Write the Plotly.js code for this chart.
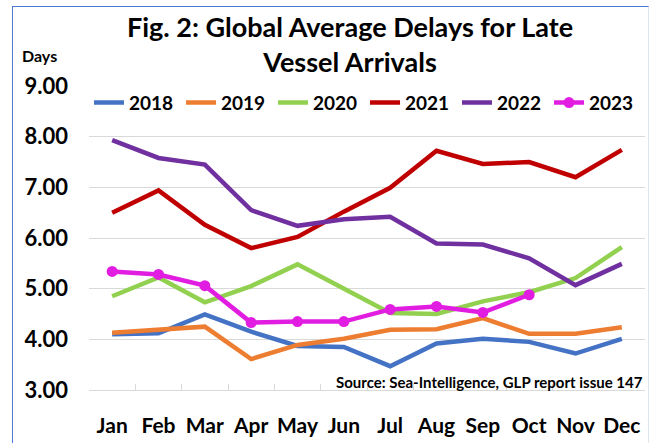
<!DOCTYPE html>
<html>
<head>
<meta charset="utf-8">
<script src="https://cdn.plot.ly/plotly-3.0.1.min.js"></script>
<style>
html, body { margin:0; padding:0; background:#fff; }
#chart { width:649px; height:443px; position:absolute; left:0; top:0; }
#frame { position:absolute; left:12px; top:6px; width:635px; height:460px;
  border-left:1.5px solid #4a7bd0; border-top:1.5px solid #4a7bd0; border-right:1px solid #dfe6ef;
  pointer-events:none; }
</style>
</head>
<body>
<div id="chart"></div>
<div id="frame"></div>
<script>
const months = ['Jan','Feb','Mar','Apr','May','Jun','Jul','Aug','Sep','Oct','Nov','Dec'];
const years = ['2018','2019','2020','2021','2022','2023'];
const d2018 = [4.10, 4.12, 4.49, 4.15, 3.87, 3.85, 3.47, 3.92, 4.01, 3.95, 3.72, 4.01];
const d2019 = [4.13, 4.20, 4.25, 3.61, 3.89, 4.01, 4.19, 4.20, 4.42, 4.11, 4.11, 4.24];
const d2020 = [4.85, 5.22, 4.73, 5.05, 5.48, 5.00, 4.52, 4.50, 4.75, 4.93, 5.21, 5.82];
const d2021 = [6.50, 6.94, 6.26, 5.80, 6.02, 6.52, 6.99, 7.72, 7.46, 7.50, 7.20, 7.74];
const d2022 = [7.93, 7.58, 7.45, 6.55, 6.24, 6.37, 6.42, 5.89, 5.87, 5.60, 5.07, 5.49];
const d2023 = [5.34, 5.28, 5.06, 4.33, 4.35, 4.35, 4.59, 4.65, 4.53, 4.88];
const colors = ['#4472C4', '#ED7D31', '#92D050', '#C00000', '#7030A0', '#E21DE2'];
const series = [d2018, d2019, d2020, d2021, d2022, d2023];

const FONT = 'Lato, "Open Sans", sans-serif';
const traces = series.map((vals, i) => ({
  type: 'scatter',
  x: months.slice(0, vals.length),
  y: vals,
  name: years[i],
  mode: i === 5 ? 'lines+markers' : 'lines',
  line: { color: colors[i], width: 4.5 },
  marker: { color: colors[i], size: 11 }
}));

const layout = {
  width: 649, height: 443,
  margin: { l: 89, r: 4, t: 86, b: 53 },
  paper_bgcolor: 'rgba(0,0,0,0)',
  plot_bgcolor: 'rgba(0,0,0,0)',
  font: { family: FONT, color: '#000', weight: 'bold' },
  showlegend: true,
  legend: {
    orientation: 'h', x: 0.0, xanchor: 'left', y: 0.945, yanchor: 'middle',
    font: { family: FONT, size: 19, weight: 'bold' },
    entrywidth: 47, entrywidthmode: 'pixels',
    bgcolor: 'rgba(0,0,0,0)', tracegroupgap: 0, itemwidth: 30
  },
  xaxis: {
    type: 'category', categoryorder: 'array', categoryarray: months,
    range: [-0.5, 11.5], tickangle: 0,
    showline: true, linecolor: '#d9d9d9', linewidth: 1,
    ticks: 'inside', tickson: 'boundaries', ticklen: 6, tickcolor: '#d9d9d9',
    tickfont: { family: FONT, size: 21, weight: 'bold', color: '#000' },
    ticklabelstandoff: 17,
    showgrid: false, zeroline: false, fixedrange: true
  },
  yaxis: {
    range: [3, 9], dtick: 1, tick0: 3, tickformat: '.2f',
    showgrid: true, gridcolor: '#d9d9d9', gridwidth: 1,
    showline: false, zeroline: false, ticks: '',
    tickfont: { family: FONT, size: 22, weight: 'bold', color: '#000' },
    ticklabelstandoff: 20, fixedrange: true
  },
  annotations: [
    { text: 'Fig. 2: Global Average Delays for Late<br>Vessel Arrivals',
      xref: 'paper', yref: 'paper', x: (350 - 89) / 556, y: (390 - 8) / 304,
      xanchor: 'center', yanchor: 'top', showarrow: false, align: 'center',
      font: { family: FONT, size: 27, weight: 'bold', color: '#000' } },
    { text: 'Days', xref: 'paper', yref: 'paper', x: -0.124, y: 1.10,
      xanchor: 'left', yanchor: 'middle', showarrow: false,
      font: { family: FONT, size: 16, weight: 'bold', color: '#000' } },
    { text: 'Source: Sea-Intelligence, GLP report issue 147', xref: 'paper', yref: 'paper',
      x: 1.0, y: 0.027, xanchor: 'right', yanchor: 'middle', showarrow: false,
      font: { family: FONT, size: 15, weight: 'bold', color: '#000' } }
  ]
};

Plotly.newPlot('chart', traces, layout, { displayModeBar: false, staticPlot: true });
</script>
</body>
</html>
